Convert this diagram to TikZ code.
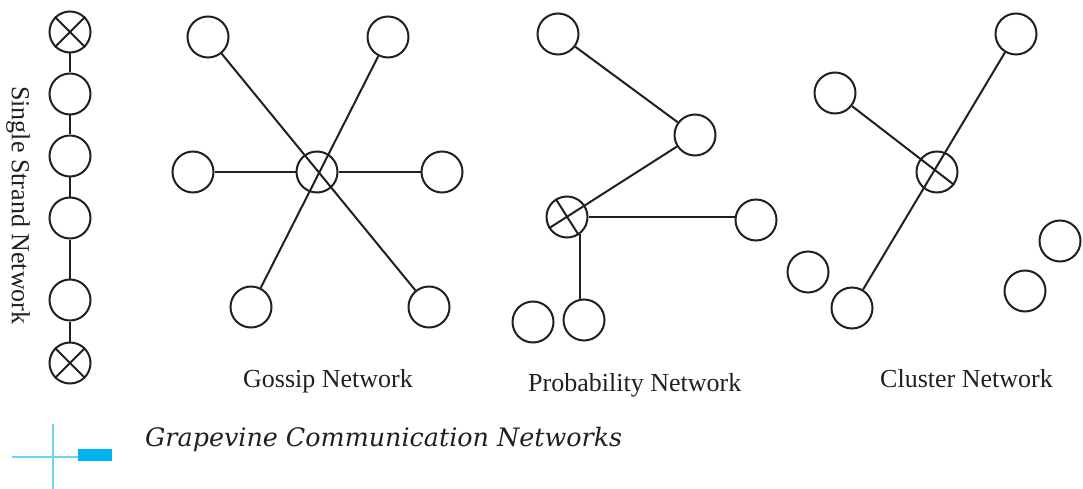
\documentclass[tikz,border=0pt]{standalone}
\usepackage{fontspec}
\setmainfont{Liberation Serif}
\newfontfamily\capfont{DejaVu Serif}
\usetikzlibrary{calc}
\definecolor{ink}{HTML}{231F20}
\definecolor{cyanA}{HTML}{00B2EE}
\definecolor{cyanB}{HTML}{6CD3F7}
\begin{document}
\begin{tikzpicture}[x=1pt,y=-1pt,
  nd/.style={circle, draw=ink, line width=2pt, minimum size=41pt, inner sep=0pt},
  ln/.style={draw=ink, line width=2pt},
  lbl/.style={font=\fontsize{26}{30}\selectfont, text=ink, inner sep=0pt, anchor=base west}]
\useasboundingbox (0,0) rectangle (1083,489);
% single strand
\node[nd] (s1) at (70,32) {};
\node[nd] (s2) at (70,94) {};
\node[nd] (s3) at (70,156) {};
\node[nd] (s4) at (70,218) {};
\node[nd] (s5) at (70,300) {};
\node[nd] (s6) at (70,363) {};
\draw[ln] (s1) -- (s2);
\draw[ln] (s2) -- (s3);
\draw[ln] (s3) -- (s4);
\draw[ln] (s4) -- (s5);
\draw[ln] (s5) -- (s6);
\draw[ln] (s1.45) -- (s1.225) (s1.135) -- (s1.-45);
\draw[ln] (s6.45) -- (s6.225) (s6.135) -- (s6.-45);
\node[lbl, rotate=-90] (tss) at (12,86) {Single Strand Network};
% gossip
\node[nd] (gtl) at (208,37) {};
\node[nd] (gtr) at (388,37) {};
\node[nd] (gl) at (193,172) {};
\node[nd] (gc) at (317,172) {};
\node[nd] (gr) at (442,172) {};
\node[nd] (gbl) at (251,307) {};
\node[nd] (gbr) at (429,307) {};
\draw[ln] (gtl) -- (gbr);
\draw[ln] (gtr) -- (gbl);
\draw[ln] (gl) -- (gc);
\draw[ln] (gc) -- (gr);
\node[lbl] (tg) at (243,387) {Gossip Network};
% probability
\node[nd] (pt) at (558,34) {};
\node[nd] (pm) at (695,135) {};
\node[nd] (px) at (567,217) {};
\node[nd] (pr) at (756,220) {};
\node[nd] (pb1) at (533,322) {};
\node[nd] (pb2) at (584,320) {};
\draw[ln] (pt) -- (pm);
\draw[ln] (pm) -- (px.212.6);
\draw[ln] (px.122.6) -- (px.-57.4);
\draw[ln] (px.east) -- (px.east -| pr.west);
\draw[ln] (px.-54) -- (px.-54 |- pb2.north);
\node[lbl] (tp) at (528,391) {Probability Network};
% cluster
\node[nd] (ctr) at (1016,34) {};
\node[nd] (cl) at (835,93) {};
\node[nd] (cx) at (937,172) {};
\node[nd] (cbl) at (852,308) {};
\node[nd] (cc1) at (808,272) {};
\node[nd] (cc2) at (1025,291) {};
\node[nd] (cc3) at (1060,241) {};
\draw[ln] (ctr) -- (cbl);
\draw[ln] (cl) -- (cx.-37.8);
\node[lbl] (tc) at (880,387) {Cluster Network};
% caption
\coordinate (mk) at (53,457);
\draw[cyanB, line width=1.6pt] (mk |- 0,424) -- (mk |- 0,489);
\draw[cyanB, line width=1.6pt] (12,457) -- (78,457);
\fill[cyanA] (78,449) rectangle (112,461);
\node[inner sep=0pt, anchor=base west, text=ink, font=\capfont\itshape\fontsize{25.4}{30}\selectfont] (cap) at (145,446) {Grapevine Communication Networks};
\end{tikzpicture}
\end{document}
